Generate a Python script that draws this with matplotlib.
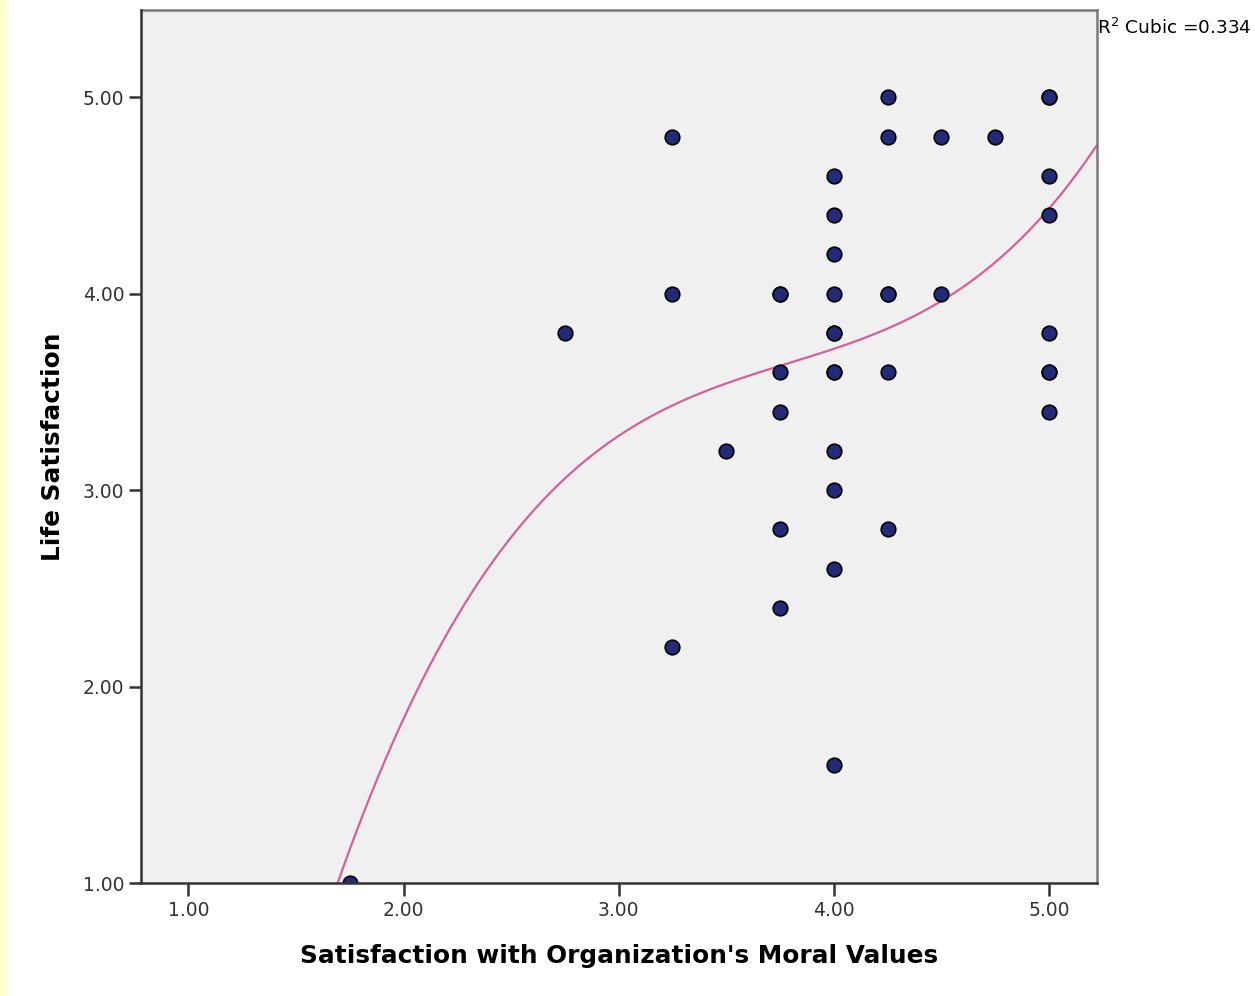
import numpy as np
import matplotlib
matplotlib.use("Agg")
import matplotlib.pyplot as plt

plt.rcParams['font.family'] = ['DejaVu Sans']

# data (x = moral values, y = life satisfaction)
moral = [1.75, 2.75,
         3.25, 3.25, 3.25,
         3.50,
         3.75, 3.75, 3.75, 3.75, 3.75, 3.75,
         4.00, 4.00, 4.00, 4.00, 4.00, 4.00, 4.00, 4.00, 4.00, 4.00, 4.00, 4.00,
         4.25, 4.25, 4.25, 4.25, 4.25, 4.25,
         4.50, 4.50, 4.75,
         5.00, 5.00, 5.00, 5.00, 5.00, 5.00, 5.00, 5.00]
life = [1.0, 3.8,
        4.8, 4.0, 2.2,
        3.2,
        4.0, 4.0, 3.6, 3.4, 2.8, 2.4,
        4.6, 4.4, 4.2, 4.0, 3.8, 3.8, 3.6, 3.6, 3.2, 3.0, 2.6, 1.6,
        5.0, 4.8, 4.0, 4.0, 3.6, 2.8,
        4.8, 4.0, 4.8,
        5.0, 5.0, 4.6, 4.4, 3.8, 3.6, 3.6, 3.4]

# points along the cubic fit line
curve_x = [1.693, 1.972, 2.172, 2.591, 3.195, 3.614, 4.0, 4.5, 4.826, 5.0, 5.149, 5.223]
curve_y = [1.005, 1.770, 2.194, 2.878, 3.413, 3.587, 3.714, 3.981, 4.220, 4.398, 4.663, 4.765]

x_ticks = [1.0, 2.0, 3.0, 4.0, 5.0]
y_ticks = [1.0, 2.0, 3.0, 4.0, 5.0]
r2_label = "R$^2$ Cubic =0.334"

fig = plt.figure(figsize=(12.55, 9.96), dpi=100)
fig.patch.set_facecolor('white')
# yellow strip at left edge
fig.patches.append(plt.Rectangle((0, 0), 6 / 1255, 1, transform=fig.transFigure,
                                 color='#ffffcc', zorder=0))

ax = fig.add_axes([141 / 1255, 113 / 996, 956 / 1255, 873 / 996])
ax.set_facecolor('#f0f0f0')

# smooth cubic through the read points
coef = np.polyfit(curve_x, curve_y, 3)
xs = np.linspace(0.78, 5.223, 400)
ax.plot(xs, np.polyval(coef, xs), color='#d4609a', lw=1.6, zorder=2)

ax.scatter(moral, life, s=110, c='#232a78', edgecolors='black', linewidths=1.2, zorder=3)

ax.set_xlim(0.78, 5.223)
ax.set_ylim(1.0, 5.444)
ax.set_xticks(x_ticks)
ax.set_yticks(y_ticks)
ax.set_xticklabels([f"{v:.2f}" for v in x_ticks])
ax.set_yticklabels([f"{v:.2f}" for v in y_ticks])
ax.tick_params(axis='x', direction='out', length=9, width=1.8, pad=4,
               labelsize=13.5, colors='#333333')
ax.tick_params(axis='y', direction='out', length=9, width=1.8, pad=3,
               labelsize=13.5, colors='#333333')

for side in ['left', 'bottom']:
    ax.spines[side].set_color('#333333')
    ax.spines[side].set_linewidth(1.8)
    ax.spines[side].set_zorder(4)
for side in ['top', 'right']:
    ax.spines[side].set_color('#7a7a7a')
    ax.spines[side].set_linewidth(1.8)

ax.set_xlabel("Satisfaction with Organization's Moral Values", fontsize=17.8,
              fontweight='bold', labelpad=17)
ax.set_ylabel("Life Satisfaction", fontsize=17.8, fontweight='bold', labelpad=13)

fig.text(1097 / 1255, 1 - 28 / 996, r2_label, fontsize=13.3, ha='left', va='center')

fig.savefig("out.png", dpi=100)
